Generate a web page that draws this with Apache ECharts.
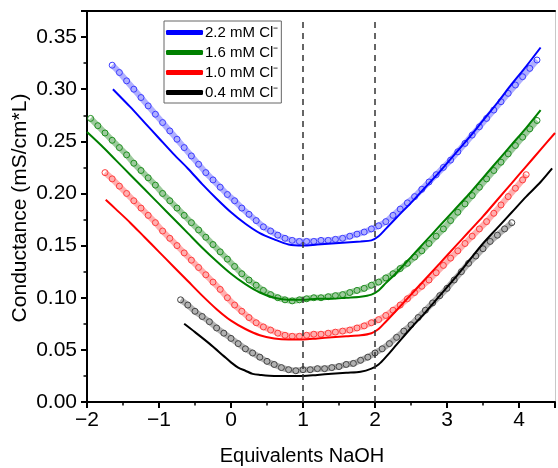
<!DOCTYPE html>
<html>
<head>
<meta charset="utf-8">
<script src="https://cdn.jsdelivr.net/npm/echarts@6/dist/echarts.min.js"></script>
<style>html,body{margin:0;padding:0;background:#fff;}#c{width:558px;height:468px;}</style>
</head>
<body>
<div id="c"></div>
<script>
// ---- data ----
const seriesNames = ['2.2 mM Cl⁻', '1.6 mM Cl⁻', '1.0 mM Cl⁻', '0.4 mM Cl⁻'];
const xTicks = [-2, -1, 0, 1, 2, 3, 4];
const yTicks = [0.00, 0.05, 0.10, 0.15, 0.20, 0.25, 0.30, 0.35];
const refLines = [1, 2];

const blueCircles = [[-1.65,0.323],[-1.55,0.316],[-1.45,0.308],[-1.35,0.300],[-1.25,0.292],[-1.15,0.284],[-1.05,0.276],[-0.95,0.268],[-0.85,0.260],[-0.75,0.252],[-0.65,0.244],[-0.55,0.236],[-0.45,0.228],[-0.35,0.220],[-0.25,0.213],[-0.15,0.206],[-0.05,0.199],[0.05,0.193],[0.15,0.186],[0.25,0.180],[0.35,0.174],[0.45,0.168],[0.55,0.164],[0.65,0.160],[0.75,0.157],[0.85,0.155],[0.95,0.154],[1.05,0.154],[1.15,0.154],[1.25,0.155],[1.35,0.155],[1.45,0.156],[1.55,0.157],[1.65,0.159],[1.75,0.161],[1.85,0.163],[1.95,0.166],[2.05,0.169],[2.15,0.173],[2.25,0.179],[2.35,0.185],[2.45,0.191],[2.55,0.197],[2.65,0.204],[2.75,0.211],[2.85,0.218],[2.95,0.225],[3.05,0.232],[3.15,0.240],[3.25,0.248],[3.35,0.256],[3.45,0.264],[3.55,0.272],[3.65,0.280],[3.75,0.288],[3.85,0.296],[3.95,0.304],[4.05,0.312],[4.15,0.320],[4.25,0.328]];
const blueLine = [[-1.64,0.300],[-1.4,0.283],[-1.2,0.268],[-1.0,0.253],[-0.8,0.238],[-0.6,0.224],[-0.4,0.209],[-0.2,0.195],[0.0,0.182],[0.2,0.171],[0.4,0.162],[0.6,0.156],[0.8,0.151],[1.0,0.150],[1.2,0.151],[1.4,0.152],[1.6,0.153],[1.8,0.154],[1.95,0.155],[2.05,0.159],[2.15,0.166],[2.3,0.177],[2.5,0.191],[2.7,0.206],[2.9,0.221],[3.1,0.237],[3.3,0.253],[3.5,0.270],[3.7,0.287],[3.9,0.305],[4.1,0.322],[4.3,0.340]];

const greenCircles = [[-1.95,0.272],[-1.85,0.265],[-1.75,0.258],[-1.65,0.251],[-1.55,0.244],[-1.45,0.237],[-1.35,0.229],[-1.25,0.222],[-1.15,0.215],[-1.05,0.208],[-0.95,0.200],[-0.85,0.193],[-0.75,0.186],[-0.65,0.179],[-0.55,0.172],[-0.45,0.165],[-0.35,0.158],[-0.25,0.151],[-0.15,0.144],[-0.05,0.137],[0.05,0.130],[0.15,0.123],[0.25,0.117],[0.35,0.112],[0.45,0.107],[0.55,0.103],[0.65,0.100],[0.75,0.098],[0.85,0.097],[0.95,0.098],[1.05,0.099],[1.15,0.100],[1.25,0.100],[1.35,0.101],[1.45,0.102],[1.55,0.103],[1.65,0.105],[1.75,0.107],[1.85,0.109],[1.95,0.112],[2.05,0.115],[2.15,0.119],[2.25,0.123],[2.35,0.128],[2.45,0.133],[2.55,0.139],[2.65,0.145],[2.75,0.152],[2.85,0.159],[2.95,0.166],[3.05,0.174],[3.15,0.182],[3.25,0.190],[3.35,0.198],[3.45,0.206],[3.55,0.214],[3.65,0.222],[3.75,0.230],[3.85,0.238],[3.95,0.246],[4.05,0.254],[4.15,0.262],[4.25,0.270]];
const greenLine = [[-2.0,0.259],[-1.8,0.246],[-1.6,0.232],[-1.4,0.218],[-1.2,0.204],[-1.0,0.190],[-0.8,0.176],[-0.6,0.162],[-0.4,0.148],[-0.2,0.135],[0.0,0.123],[0.2,0.113],[0.4,0.105],[0.6,0.100],[0.8,0.098],[1.0,0.098],[1.2,0.099],[1.4,0.099],[1.6,0.100],[1.8,0.101],[1.95,0.103],[2.05,0.107],[2.15,0.114],[2.3,0.124],[2.5,0.139],[2.7,0.154],[2.9,0.169],[3.1,0.184],[3.3,0.199],[3.5,0.215],[3.7,0.231],[3.9,0.247],[4.1,0.263],[4.3,0.280]];

const redCircles = [[-1.75,0.220],[-1.65,0.214],[-1.55,0.207],[-1.45,0.200],[-1.35,0.193],[-1.25,0.186],[-1.15,0.179],[-1.05,0.172],[-0.95,0.164],[-0.85,0.157],[-0.75,0.150],[-0.65,0.143],[-0.55,0.136],[-0.45,0.129],[-0.35,0.122],[-0.25,0.115],[-0.15,0.108],[-0.05,0.100],[0.05,0.093],[0.15,0.087],[0.25,0.081],[0.35,0.076],[0.45,0.072],[0.55,0.069],[0.65,0.066],[0.75,0.064],[0.85,0.063],[0.95,0.063],[1.05,0.064],[1.15,0.065],[1.25,0.065],[1.35,0.066],[1.45,0.067],[1.55,0.068],[1.65,0.069],[1.75,0.071],[1.85,0.073],[1.95,0.076],[2.05,0.079],[2.15,0.083],[2.25,0.088],[2.35,0.093],[2.45,0.099],[2.55,0.105],[2.65,0.111],[2.75,0.117],[2.85,0.124],[2.95,0.131],[3.05,0.138],[3.15,0.145],[3.25,0.152],[3.35,0.159],[3.45,0.166],[3.55,0.173],[3.65,0.181],[3.75,0.189],[3.85,0.197],[3.95,0.205],[4.05,0.213],[4.1,0.218]];
const redLine = [[-1.74,0.194],[-1.6,0.185],[-1.4,0.172],[-1.2,0.158],[-1.0,0.144],[-0.8,0.130],[-0.6,0.116],[-0.4,0.102],[-0.2,0.089],[0.0,0.078],[0.2,0.070],[0.4,0.064],[0.6,0.061],[0.8,0.060],[1.0,0.060],[1.2,0.061],[1.4,0.062],[1.6,0.063],[1.8,0.064],[1.95,0.066],[2.05,0.070],[2.15,0.077],[2.3,0.088],[2.5,0.103],[2.7,0.118],[2.9,0.133],[3.1,0.148],[3.3,0.163],[3.5,0.178],[3.7,0.194],[3.9,0.210],[4.1,0.226],[4.3,0.242],[4.5,0.258]];

const blackCircles = [[-0.7,0.098],[-0.6,0.093],[-0.5,0.087],[-0.4,0.082],[-0.3,0.077],[-0.2,0.071],[-0.1,0.066],[0.0,0.061],[0.1,0.056],[0.2,0.051],[0.3,0.047],[0.4,0.043],[0.5,0.039],[0.6,0.036],[0.7,0.033],[0.8,0.031],[0.9,0.030],[1.0,0.031],[1.1,0.031],[1.2,0.032],[1.3,0.032],[1.4,0.033],[1.5,0.034],[1.6,0.036],[1.7,0.037],[1.8,0.040],[1.9,0.043],[2.0,0.047],[2.1,0.051],[2.2,0.056],[2.3,0.062],[2.4,0.068],[2.5,0.074],[2.6,0.081],[2.7,0.088],[2.8,0.095],[2.9,0.102],[3.0,0.109],[3.1,0.117],[3.2,0.125],[3.3,0.133],[3.4,0.140],[3.5,0.147],[3.6,0.154],[3.7,0.160],[3.8,0.166],[3.9,0.172]];
const blackLine = [[-0.65,0.075],[-0.5,0.067],[-0.3,0.056],[-0.1,0.044],[0.0,0.038],[0.1,0.033],[0.2,0.030],[0.3,0.027],[0.4,0.026],[0.6,0.025],[0.8,0.025],[1.0,0.025],[1.2,0.026],[1.4,0.027],[1.6,0.028],[1.8,0.029],[1.95,0.032],[2.05,0.036],[2.15,0.043],[2.3,0.055],[2.5,0.071],[2.7,0.086],[2.9,0.102],[3.1,0.118],[3.3,0.135],[3.5,0.152],[3.7,0.167],[3.9,0.182],[4.1,0.197],[4.3,0.211],[4.46,0.224]];

// ---- styling ----
const lineColors = ['#0000ff', '#008000', '#ff0000', '#000000'];
const ringColors = ['#3c3cff', '#1f8f1f', '#ff3c3c', '#444444'];
const bandColors = ['rgba(110,110,255,0.55)', 'rgba(60,150,60,0.5)', 'rgba(255,110,110,0.55)', 'rgba(100,100,100,0.5)'];
const circleSets = [blueCircles, greenCircles, redCircles, blackCircles];
const lineSets = [blueLine, greenLine, redLine, blackLine];

const chart = echarts.init(document.getElementById('c'), null, {renderer: 'canvas'});
const FONT = 'Liberation Sans, Arial, sans-serif';

const series = [];
circleSets.forEach((d, i) => {
  series.push({
    name: seriesNames[i] + ' data',
    type: 'line',
    data: d,
    smooth: 0.3,
    symbol: 'circle',
    symbolSize: 6,
    showAllSymbol: true,
    itemStyle: {color: 'rgba(255,255,255,0)', borderColor: ringColors[i], borderWidth: 1},
    lineStyle: {color: bandColors[i], width: 6},
    silent: true,
    z: 2
  });
});
lineSets.forEach((d, i) => {
  const s = {
    name: seriesNames[i],
    type: 'line',
    data: d,
    smooth: 0.3,
    showSymbol: false,
    symbol: 'none',
    itemStyle: {color: lineColors[i]},
    lineStyle: {color: lineColors[i], width: 2},
    silent: true,
    z: 3
  };
  if (i === 0) {
    s.markLine = {
      silent: true,
      symbol: 'none',
      label: {show: false},
      lineStyle: {color: '#333', type: [6, 5], width: 1.5},
      data: refLines.map(v => [{coord: [v, 0]}, {coord: [v, 0.366]}])
    };
  }
  series.push(s);
});

const option = {
  animation: false,
  backgroundColor: '#fff',
  grid: {left: 87, top: 11, right: 3, bottom: 66},
  legend: {
    data: seriesNames,
    orient: 'vertical',
    left: 164, top: 21,
    padding: [4, 3, 3, 2],
    itemGap: 5,
    itemWidth: 37,
    itemHeight: 5,
    icon: 'roundRect',
    selectedMode: false,
    borderColor: '#666',
    borderWidth: 1,
    textStyle: {fontFamily: FONT, fontSize: 15, color: '#000', lineHeight: 15, padding: [0, 0, 0, -3]}
  },
  xAxis: [{
    type: 'value', min: -2, max: 4.5, interval: 1,
    axisLine: {show: true, onZero: false, lineStyle: {color: '#000', width: 2}},
    axisTick: {show: true, length: 6, lineStyle: {color: '#000', width: 2}},
    minorTick: {show: true, splitNumber: 2, length: 3.5, lineStyle: {color: '#000', width: 1.5}},
    splitLine: {show: false},
    axisLabel: {
      showMaxLabel: false, margin: 8, fontFamily: FONT, fontSize: 21, color: '#000',
      formatter: v => (xTicks.indexOf(v) >= 0 ? String(v).replace('-', '\u2212') : '')
    }
  }, {
    type: 'value', min: -2, max: 4.5, position: 'top',
    axisLine: {show: true, onZero: false, lineStyle: {color: '#000', width: 2}},
    axisTick: {show: false}, axisLabel: {show: false}, splitLine: {show: false}
  }],
  yAxis: [{
    type: 'value', min: 0, max: 0.375, interval: 0.05,
    axisLine: {show: true, onZero: false, lineStyle: {color: '#000', width: 2}},
    axisTick: {show: true, length: 6, lineStyle: {color: '#000', width: 2}},
    minorTick: {show: true, splitNumber: 2, length: 3.5, lineStyle: {color: '#000', width: 1.5}},
    splitLine: {show: false},
    axisLabel: {
      showMaxLabel: false, margin: 10, fontFamily: FONT, fontSize: 21, color: '#000',
      formatter: v => {
        const t = yTicks.find(k => Math.abs(k - v) < 1e-9);
        return t === undefined ? '' : t.toFixed(2);
      }
    }
  }, {
    type: 'value', min: 0, max: 0.375, position: 'right',
    axisLine: {show: true, onZero: false, lineStyle: {color: '#c8c8c8', width: 1}},
    axisTick: {show: false}, axisLabel: {show: false}, splitLine: {show: false}
  }],
  graphic: [
    {type: 'text', x: 302, y: 456, style: {text: 'Equivalents NaOH', font: '20px ' + FONT, fill: '#000', align: 'center', verticalAlign: 'middle'}},
    {type: 'text', x: 20, y: 208, rotation: Math.PI / 2, style: {text: 'Conductance (mS/cm*L)', font: '21px ' + FONT, fill: '#000', align: 'center', verticalAlign: 'middle'}}
  ],
  series: series
};
chart.setOption(option);
</script>
</body>
</html>
